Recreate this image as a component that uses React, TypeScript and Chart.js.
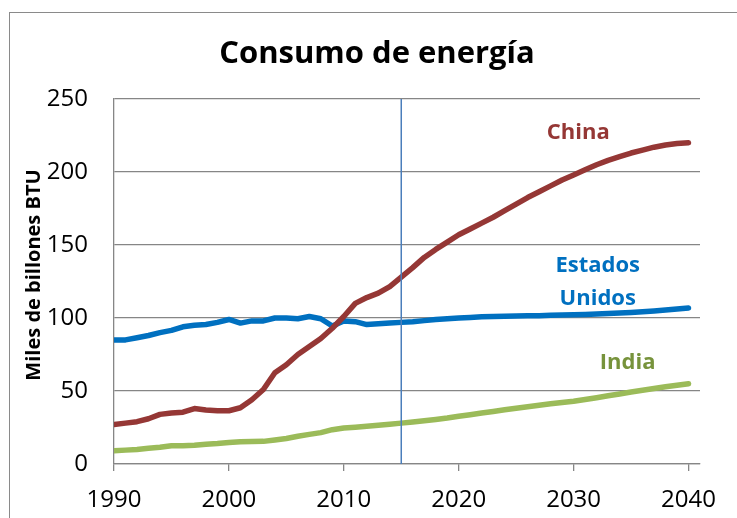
import React, { useEffect, useRef } from "react";
import { Chart, registerables } from "chart.js";

Chart.register(...registerables);

const years = [
  1990, 1991, 1992, 1993, 1994, 1995, 1996, 1997, 1998, 1999,
  2000, 2001, 2002, 2003, 2004, 2005, 2006, 2007, 2008, 2009,
  2010, 2011, 2012, 2013, 2014, 2015, 2016, 2017, 2018, 2019,
  2020, 2021, 2022, 2023, 2024, 2025, 2026, 2027, 2028, 2029,
  2030, 2031, 2032, 2033, 2034, 2035, 2036, 2037, 2038, 2039,
  2040,
];

const china = [
  27, 28, 29, 31, 34, 35, 35.5, 38, 37, 36.5,
  36.5, 38.5, 44, 51, 62.5, 68, 75, 80.5, 86, 93,
  101, 110, 114, 117, 121.5, 128, 134.5, 141.5, 147, 152,
  157, 161, 165, 169, 173.5, 178, 182.5, 186.5, 190.5, 194.5,
  198, 201.5, 205, 208, 210.5, 213, 215, 217, 218.5, 219.5,
  220,
];

const usa = [
  85, 85, 86.5, 88, 90, 91.5, 94, 95, 95.5, 97,
  99, 96.5, 98, 98, 100, 100, 99.5, 101, 99.5, 94.5,
  98, 97.5, 95.5, 96, 96.5, 97, 97.5, 98.2, 99, 99.5,
  100, 100.4, 100.8, 101, 101.2, 101.4, 101.5, 101.6, 101.8, 102,
  102.2, 102.4, 102.7, 103, 103.4, 103.8, 104.3, 104.8, 105.4, 106.1,
  106.8,
];

const india = [
  9, 9.5, 10, 10.8, 11.5, 12.5, 12.5, 12.8, 13.5, 14,
  14.7, 15.2, 15.4, 15.5, 16.5, 17.5, 19, 20.3, 21.5, 23.5,
  24.7, 25.2, 25.8, 26.5, 27.2, 28, 28.8, 29.6, 30.5, 31.5,
  32.7, 33.8, 34.9, 36, 37.1, 38.2, 39.2, 40.2, 41.2, 42.1,
  43, 44.2, 45.4, 46.7, 48, 49.3, 50.5, 51.7, 52.9, 54,
  55,
];

const xTicks = [1990, 2000, 2010, 2020, 2030, 2040];
const yTicks = [0, 50, 100, 150, 200, 250];
const markerYear = 2015;

const title = "Consumo de energía";
const yTitle = "Miles de billones BTU";

// label anchors in data units
const seriesLabels = [
  { lines: ["China"], x: 2030.4, y: 227, color: "#953735" },
  { lines: ["Estados", "Unidos"], x: 2032.1, y: 124.5, color: "#0070C0" },
  { lines: ["India"], x: 2034.7, y: 69.4, color: "#77933C" },
];

const FONT = "'Open Sans', 'Noto Sans', sans-serif";
const GRID = "#868686";

export default function App() {
  const ref = useRef<HTMLCanvasElement | null>(null);

  useEffect(() => {
    if (!ref.current) return;
    const overlay = {
      id: "overlay",
      afterDatasetsDraw(chart: any) {
        const { ctx, scales } = chart;
        const xs = scales.x;
        const ys = scales.y;
        ctx.save();
        ctx.strokeStyle = "#4A7EBB";
        ctx.lineWidth = 1.5;
        const mx = xs.getPixelForValue(markerYear);
        ctx.beginPath();
        ctx.moveTo(mx, ys.getPixelForValue(yTicks[yTicks.length - 1]));
        ctx.lineTo(mx, ys.getPixelForValue(0));
        ctx.stroke();
        ctx.font = `bold 22px ${FONT}`;
        ctx.textAlign = "center";
        ctx.textBaseline = "middle";
        for (const l of seriesLabels) {
          ctx.fillStyle = l.color;
          const cx = xs.getPixelForValue(l.x);
          const cy = ys.getPixelForValue(l.y);
          const lh = 33;
          const start = cy - ((l.lines.length - 1) * lh) / 2;
          l.lines.forEach((t, i) => ctx.fillText(t, cx, start + i * lh));
        }
        ctx.restore();
      },
      afterDraw(chart: any) {
        const { ctx } = chart;
        ctx.save();
        ctx.fillStyle = "#000";
        ctx.textAlign = "center";
        ctx.textBaseline = "middle";
        ctx.font = `bold 31px ${FONT}`;
        ctx.fillText(title, 377, 54);
        ctx.translate(34, 275);
        ctx.rotate(-Math.PI / 2);
        ctx.font = `bold 20px ${FONT}`;
        ctx.fillText(yTitle, 0, 0);
        ctx.restore();
      },
    };

    const chart = new Chart(ref.current, {
      type: "line",
      data: {
        labels: years,
        datasets: [
          { label: "China", data: years.map((x, i) => ({ x, y: china[i] })), borderColor: "#953735" },
          { label: "Estados Unidos", data: years.map((x, i) => ({ x, y: usa[i] })), borderColor: "#0070C0" },
          { label: "India", data: years.map((x, i) => ({ x, y: india[i] })), borderColor: "#9BBB59" },
        ].map((d) => ({
          ...d,
          borderWidth: 5.5,
          pointRadius: 0,
          tension: 0,
          fill: false,
          borderCapStyle: "round" as const,
          borderJoinStyle: "round" as const,
        })),
      },
      options: {
        responsive: false,
        animation: false,
        devicePixelRatio: 1,
        layout: { padding: { top: 99, right: 37, left: 0, bottom: 0 } },
        plugins: {
          legend: { display: false },
          tooltip: { enabled: false },
          title: { display: false },
        },
        scales: {
          x: {
            type: "linear",
            min: 1990,
            max: 2041,
            afterBuildTicks: (s: any) => {
              s.ticks = xTicks.map((v) => ({ value: v }));
            },
            afterFit: (s: any) => {
              s.height = 54;
            },
            grid: { drawOnChartArea: false, drawTicks: true, tickLength: 7, color: GRID, lineWidth: 1.3 },
            border: { color: GRID, width: 1.3 },
            ticks: {
              color: "#000",
              font: { family: FONT, size: 24 },
              padding: 15,
              maxRotation: 0,
              autoSkip: false,
              callback: (v: any) => String(v),
            },
          },
          y: {
            min: 0,
            max: 250,
            afterBuildTicks: (s: any) => {
              s.ticks = yTicks.map((v) => ({ value: v }));
            },
            afterFit: (s: any) => {
              s.width = 114;
            },
            grid: { drawTicks: false, color: GRID, lineWidth: 1.3 },
            border: { color: GRID, width: 1.3 },
            ticks: {
              color: "#000",
              font: { family: FONT, size: 24 },
              padding: 26,
              callback: (v: any) => String(v),
            },
          },
        },
      },
      plugins: [overlay],
    } as any);
    return () => chart.destroy();
  }, []);

  return (
    <div
      style={{
        position: "fixed",
        left: 0,
        top: 0,
        width: 737,
        height: 518,
        background: "#fff",
        overflow: "hidden",
      }}
    >
      <div
        style={{
          position: "absolute",
          left: 9,
          top: 12,
          width: 760,
          height: 540,
          border: "1px solid #8a8a8a",
        }}
      />
      <canvas
        ref={ref}
        width={737}
        height={518}
        style={{ position: "absolute", left: 0, top: 0, width: 737, height: 518 }}
      />
    </div>
  );
}
